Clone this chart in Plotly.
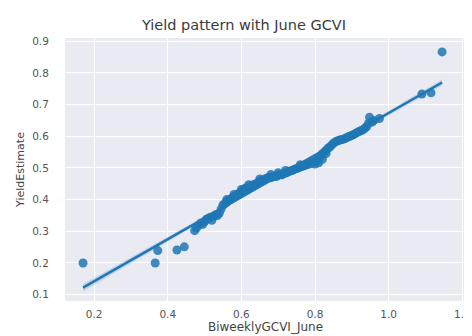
import numpy as np
import plotly.graph_objects as go

title = "Yield pattern with June GCVI"
x_label = "BiweeklyGCVI_June"
y_label = "YieldEstimate"

gcvi_june = [0.17, 0.366, 0.373, 0.425, 0.445,
             0.473, 0.478, 0.485, 0.49, 0.495, 0.50, 0.505, 0.51, 0.515, 0.52, 0.525, 0.53, 0.535, 0.54, 0.545,
             0.55, 0.555, 0.56, 0.565, 0.57, 0.575, 0.58, 0.585, 0.59, 0.595, 0.60, 0.605, 0.61, 0.615, 0.62,
             0.625, 0.63, 0.635, 0.64, 0.645, 0.65, 0.655, 0.66, 0.665, 0.67, 0.675, 0.68, 0.685, 0.69, 0.695,
             0.70, 0.705, 0.71, 0.715, 0.72, 0.725, 0.73, 0.735, 0.74, 0.745, 0.75, 0.755, 0.76, 0.765, 0.77,
             0.775, 0.78, 0.785, 0.79, 0.795, 0.80, 0.805, 0.81, 0.815, 0.82, 0.825, 0.83, 0.835, 0.84, 0.845,
             0.85, 0.855, 0.86, 0.865, 0.87, 0.875, 0.88, 0.885, 0.89, 0.895, 0.90, 0.905, 0.91, 0.915, 0.92,
             0.925, 0.93, 0.935, 0.94, 0.945, 0.948, 0.955, 0.96, 0.975,
             0.80, 0.81, 0.82, 0.83, 0.70, 0.65, 0.60, 0.62, 0.68, 0.72, 0.76, 0.56, 0.58,
             1.09, 1.115, 1.145]
yield_estimate = [0.20, 0.20, 0.239, 0.241, 0.251,
                  0.302, 0.31, 0.32, 0.326, 0.322, 0.33, 0.338, 0.34, 0.344, 0.335, 0.348, 0.352, 0.35, 0.357, 0.37,
                  0.383, 0.387, 0.392, 0.398, 0.40, 0.405, 0.409, 0.412, 0.418, 0.42, 0.425, 0.43, 0.436, 0.433, 0.44,
                  0.438, 0.445, 0.448, 0.45, 0.453, 0.457, 0.46, 0.462, 0.466, 0.468, 0.47, 0.469, 0.472, 0.474, 0.473,
                  0.477, 0.479, 0.478, 0.482, 0.484, 0.486, 0.489, 0.491, 0.493, 0.496, 0.498, 0.50, 0.503, 0.505, 0.507,
                  0.509, 0.511, 0.513, 0.515, 0.518, 0.52, 0.523, 0.53, 0.536, 0.545, 0.55, 0.555, 0.562, 0.566, 0.572,
                  0.578, 0.582, 0.585, 0.587, 0.589, 0.59, 0.592, 0.595, 0.598, 0.60, 0.603, 0.605, 0.609, 0.612, 0.615,
                  0.618, 0.62, 0.625, 0.63, 0.64, 0.66, 0.645, 0.65, 0.656,
                  0.512, 0.516, 0.527, 0.545, 0.485, 0.465, 0.432, 0.447, 0.479, 0.492, 0.51, 0.40, 0.416,
                  0.733, 0.737, 0.866]

x_ticks = [0.2, 0.4, 0.6, 0.8, 1.0, 1.2]
x_tick_text = ["0.2", "0.4", "0.6", "0.8", "1.0", "1.2"]
y_ticks = [0.1, 0.2, 0.3, 0.4, 0.5, 0.6, 0.7, 0.8, 0.9]
y_tick_text = ["0.1", "0.2", "0.3", "0.4", "0.5", "0.6", "0.7", "0.8", "0.9"]

xa = np.array(gcvi_june)
ya = np.array(yield_estimate)
slope, intercept = np.polyfit(xa, ya, 1)
n = len(xa)
xs = np.linspace(xa.min(), xa.max(), 100)
fit = intercept + slope * xs
resid = ya - (intercept + slope * xa)
s = np.sqrt(np.sum(resid ** 2) / (n - 2))
sxx = np.sum((xa - xa.mean()) ** 2)
se = s * np.sqrt(1.0 / n + (xs - xa.mean()) ** 2 / sxx)
ci = 1.98 * se

blue = "#1f77b4"
fig = go.Figure()
fig.add_trace(go.Scatter(
    x=np.concatenate([xs, xs[::-1]]), y=np.concatenate([fit + ci, (fit - ci)[::-1]]),
    fill="toself", fillcolor="rgba(31,119,180,0.2)", line=dict(width=0),
    hoverinfo="skip", showlegend=False))
fig.add_trace(go.Scatter(
    x=gcvi_june, y=yield_estimate, mode="markers",
    marker=dict(size=9, color="rgba(31,119,180,0.85)", line=dict(width=0)),
    showlegend=False))
fig.add_trace(go.Scatter(
    x=xs, y=fit, mode="lines", line=dict(color=blue, width=2.5), showlegend=False))

font_family = "DejaVu Sans, sans-serif"
fig.update_layout(
    width=472, height=336,
    margin=dict(l=57, r=9, t=30, b=43),
    paper_bgcolor="white", plot_bgcolor="#EAEAF2",
    title=dict(text=title, x=0.5, xanchor="center", y=0.95, yanchor="middle",
               font=dict(family=font_family, size=14.5, color="#3a3a3a")),
    font=dict(family=font_family, size=10.5, color="#555"),
    xaxis=dict(range=[0.121, 1.21], tickvals=x_ticks, ticktext=x_tick_text,
               gridcolor="white", gridwidth=1, zeroline=False, showline=False,
               ticks="outside", ticklen=3, tickcolor="rgba(0,0,0,0)",
               title=dict(text=x_label, font=dict(size=12, color="#444"), standoff=0)),
    yaxis=dict(range=[0.08, 0.91], tickvals=y_ticks, ticktext=y_tick_text,
               gridcolor="white", gridwidth=1, zeroline=False, showline=False,
               ticks="outside", ticklen=13, tickcolor="rgba(0,0,0,0)",
               title=dict(text=y_label, font=dict(size=11, color="#444"), standoff=5)),
)
fig.write_html("out.html")
